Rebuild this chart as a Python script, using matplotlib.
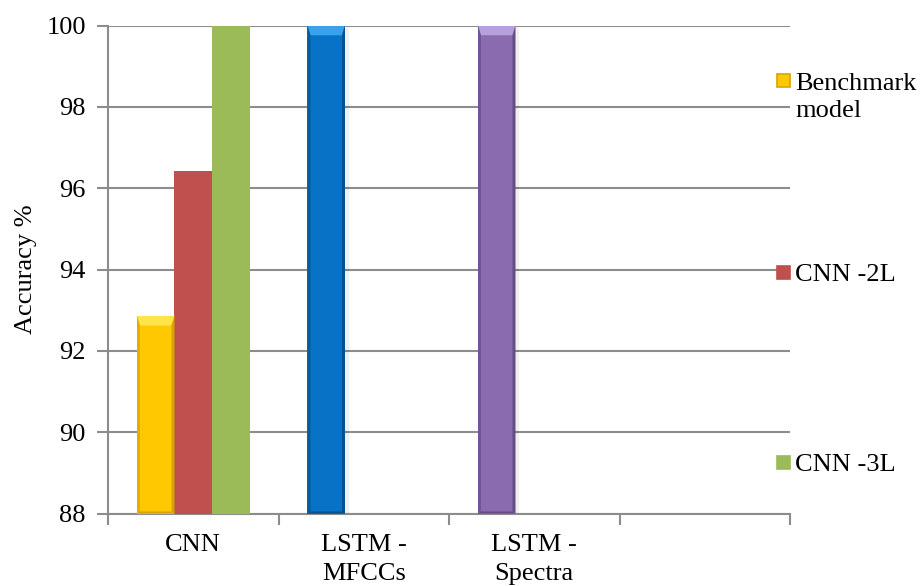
import numpy as np
import matplotlib
matplotlib.use("Agg")
import matplotlib.pyplot as plt
from matplotlib.patches import Polygon, Rectangle

plt.rcParams['font.family'] = ['Liberation Serif', 'DejaVu Serif']

# data
categories = ["CNN", "LSTM -\nMFCCs", "LSTM -\nSpectra", ""]
series_names = ["Benchmark\nmodel", "CNN -2L", "CNN -3L"]
benchmark = [92.86, 100, 100, np.nan]
cnn_2l = [96.43, np.nan, np.nan, np.nan]
cnn_3l = [100, np.nan, np.nan, np.nan]
y_min, y_max, y_step = 88, 100, 2

# point colours of the first series (main, light top, dark edge)
bevel_colors = [("#FFC800", "#FFE44A", "#D6A400"),
                ("#0873C6", "#3AA2EC", "#045290"),
                ("#8A6BB0", "#B8A0DC", "#664D8A")]
red = "#C0504D"
green = "#9BBB59"
grid_c = "#8C8C8C"

fig = plt.figure(figsize=(9.21, 5.86), dpi=100)
ax = fig.add_axes([108/921, 1-513.5/586, (790-108)/921, (513.5-25.5)/586])

x = np.arange(len(categories))
w = 0.22


def bevel_bar(rect, cols):
    bx, by = rect.get_x(), rect.get_y()
    bw, bh = rect.get_width(), rect.get_height()
    top = by + bh
    dx = bw * 0.08
    dy = 0.24
    # shadow
    ax.add_patch(Rectangle((bx + bw, by), bw * 0.1, bh - 0.05, color="#000000",
                           alpha=0.06, lw=0, zorder=2))
    main, light, dark = cols
    ax.add_patch(Polygon([(bx, top), (bx + bw, top), (bx + bw - dx, top - dy),
                          (bx + dx, top - dy)], closed=True, color=light, lw=0, zorder=4))
    ax.add_patch(Polygon([(bx, by), (bx + dx, by + 0.05), (bx + dx, top - dy), (bx, top)],
                         closed=True, color=dark, lw=0, zorder=4, alpha=0.7))
    ax.add_patch(Polygon([(bx + bw, by), (bx + bw - dx, by + 0.05), (bx + bw - dx, top - dy),
                          (bx + bw, top)], closed=True, color=dark, lw=0, zorder=4))
    ax.add_patch(Polygon([(bx, by), (bx + bw, by), (bx + bw - dx, by + 0.05),
                          (bx + dx, by + 0.05)], closed=True, color=dark, lw=0, zorder=4))


b0 = np.array(benchmark) - y_min
b1 = np.array(cnn_2l) - y_min
b2 = np.array(cnn_3l) - y_min
bars0 = ax.bar(x - w, b0, w, bottom=y_min, color=[c[0] for c in bevel_colors] + ["#FFC800"],
               lw=0, zorder=3)
ax.bar(x, b1, w, bottom=y_min, color=red, lw=0, zorder=3)
ax.bar(x + w, b2, w, bottom=y_min, color=green, lw=0, zorder=3)

for rect, cols, v in zip(bars0, bevel_colors, benchmark):
    if not np.isnan(v):
        bevel_bar(rect, cols)

ax.set_xlim(-0.5, len(categories) - 0.5)
ax.set_ylim(y_min, y_max)
ax.set_yticks(np.arange(y_min, y_max + 1, y_step))
ax.set_xticks(np.arange(len(categories) + 1) - 0.5)
ax.set_xticklabels([])
ax.set_xticks(x, minor=True)
ax.set_xticklabels(categories, minor=True)
ax.tick_params(axis='x', which='minor', length=0, pad=15, labelsize=19)
ax.tick_params(axis='x', which='major', length=8, width=1.5, color=grid_c)
ax.tick_params(axis='y', length=8, width=1.5, color=grid_c, pad=8, labelsize=19)
for lab in ax.get_xticklabels(minor=True):
    lab.set_verticalalignment('top')
    lab.set_linespacing(1.4)

ax.yaxis.grid(True, color=grid_c, lw=1.5)
ax.set_axisbelow(True)
for s in ["top", "right"]:
    ax.spines[s].set_visible(False)
for s in ["left", "bottom"]:
    ax.spines[s].set_color(grid_c)
    ax.spines[s].set_linewidth(1.5)

ax.set_ylabel("Accuracy %", fontsize=19, labelpad=7)

# legend, drawn by hand to keep Excel's spread-out layout
leg_y = [80.5, 272, 462]
leg_cols = [bevel_colors[0][0], red, green]
leg_edges = [bevel_colors[0][2], red, green]
for name, yy, fc, ec in zip(series_names, leg_y, leg_cols, leg_edges):
    fig.patches.append(Rectangle((777/921, 1-(yy+6.5)/586), 13/921, 13/586,
                                 transform=fig.transFigure, fc=fc, ec=ec, lw=1.2))
    fig.text(795/921, 1-(yy-8)/586, name, fontsize=19, va='top', ha='left',
             linespacing=1.3)

fig.savefig("out.png", dpi=100)
